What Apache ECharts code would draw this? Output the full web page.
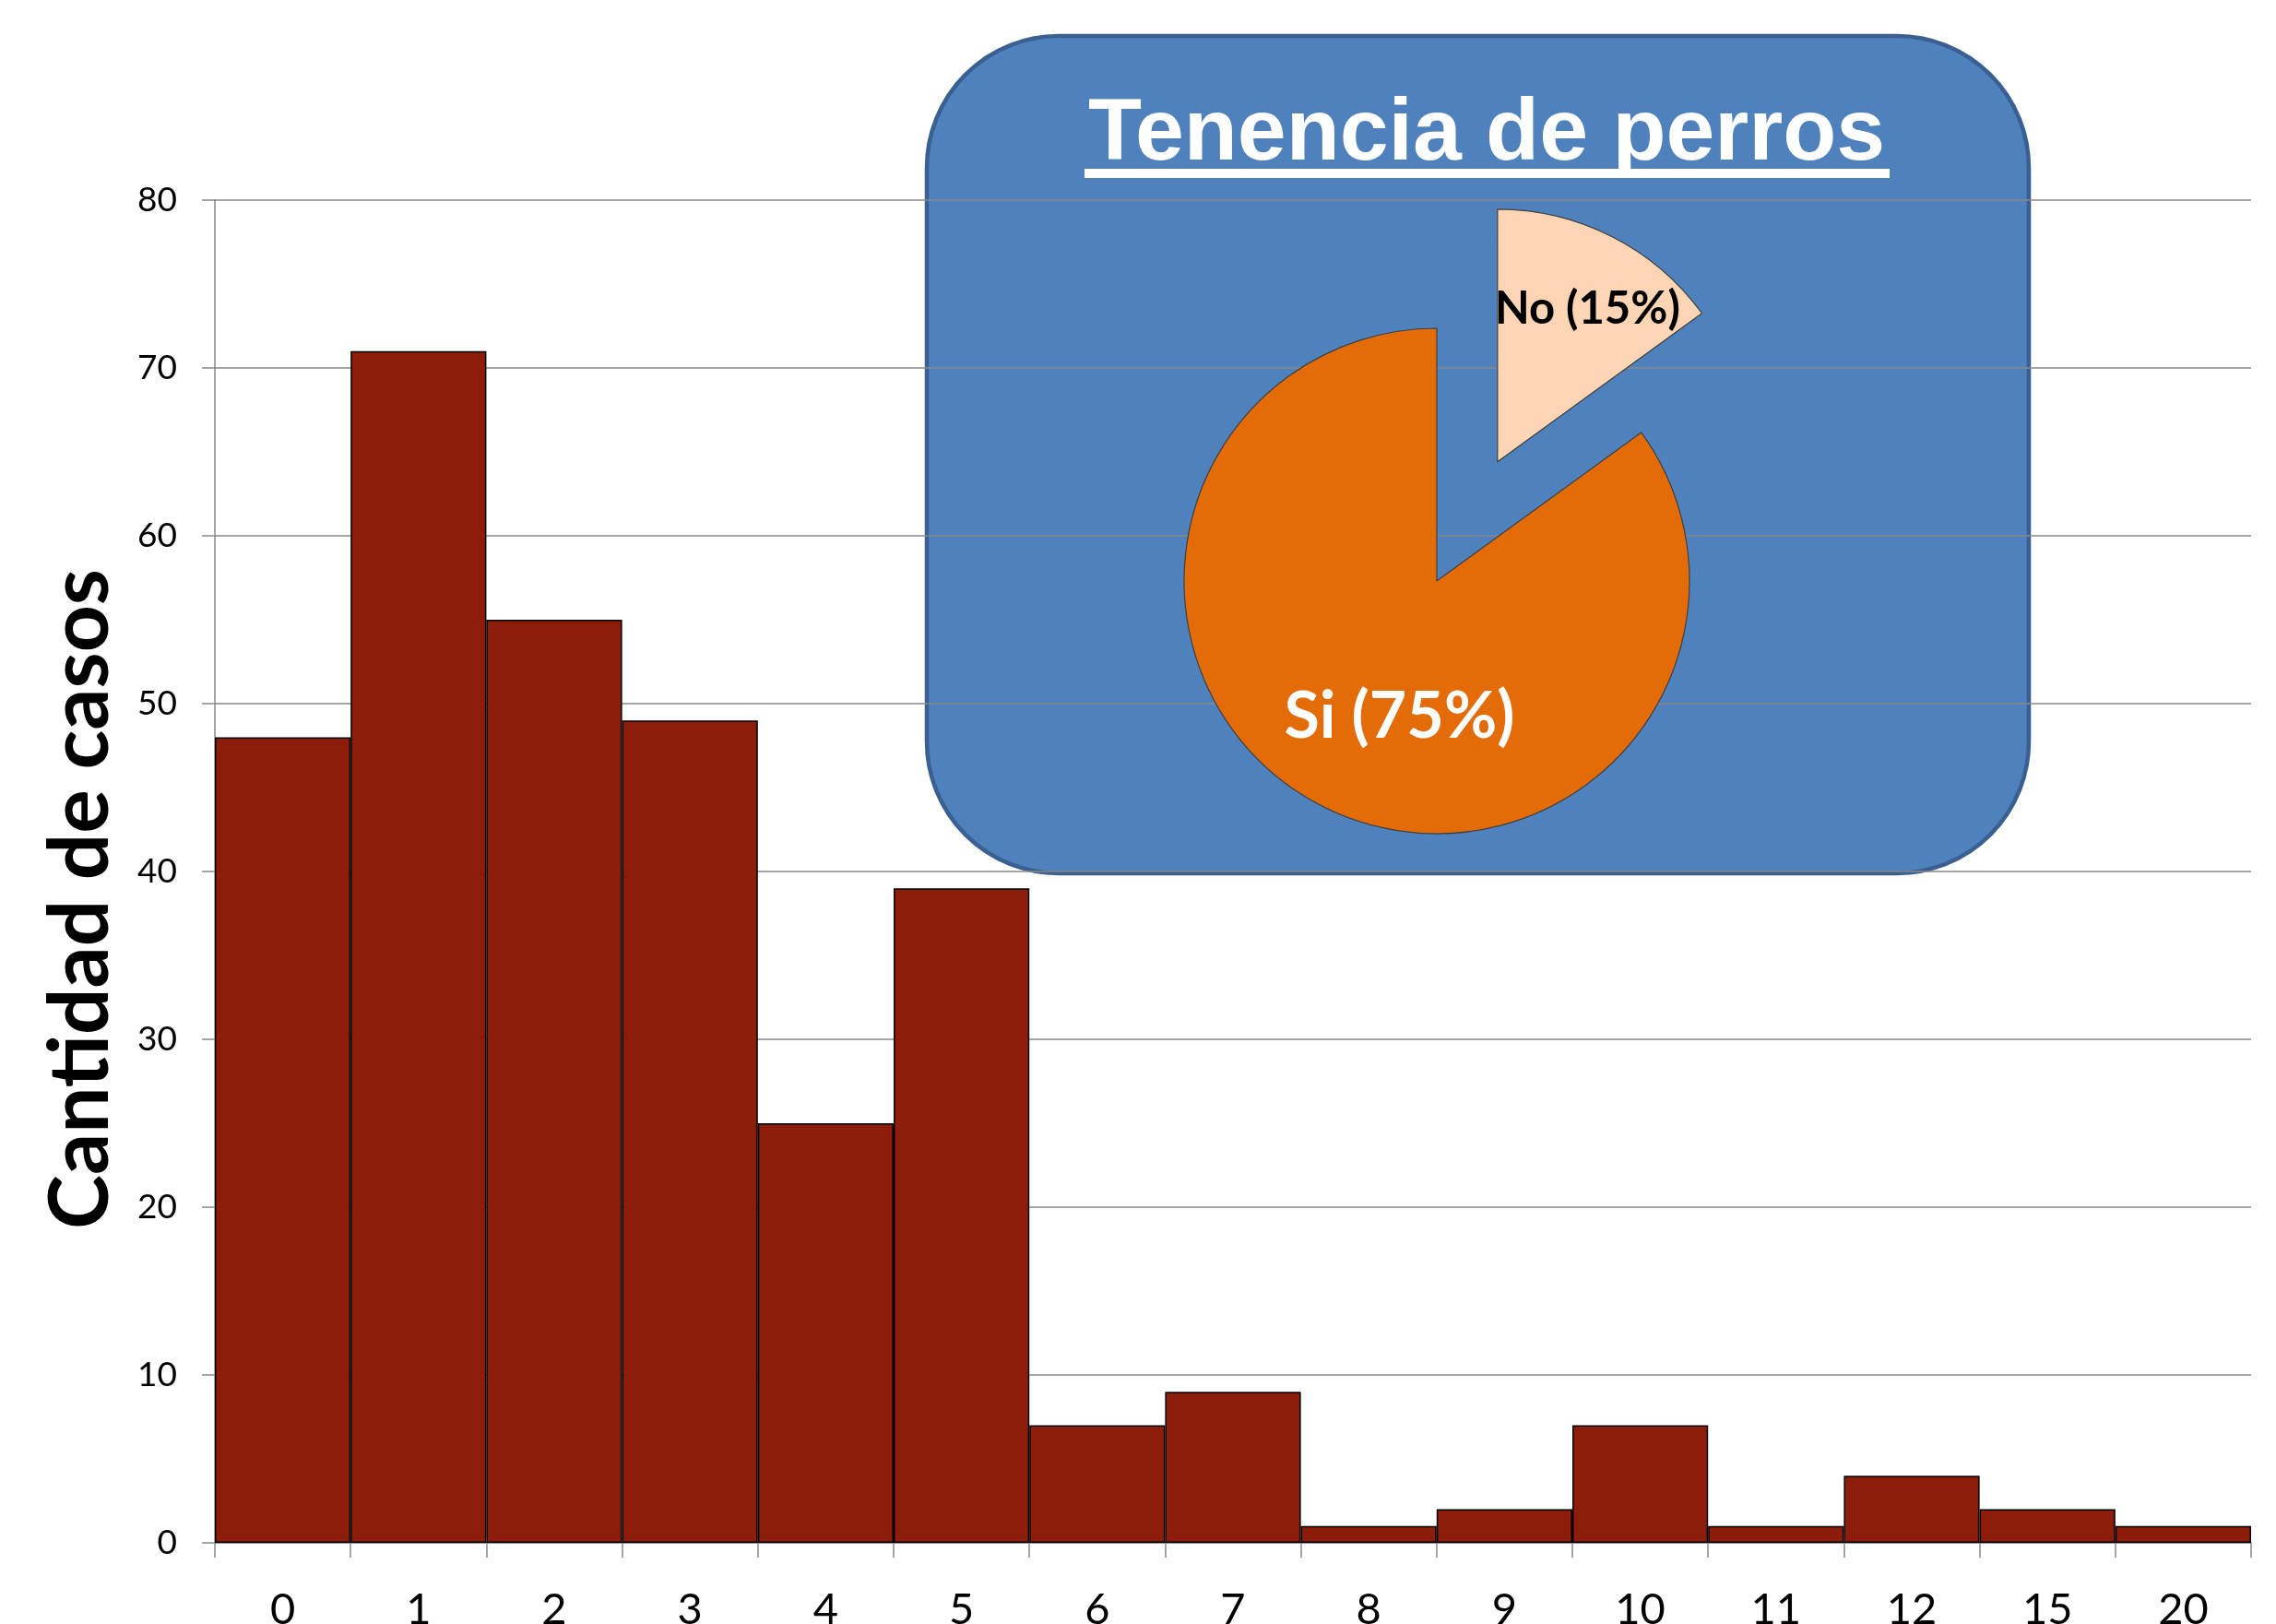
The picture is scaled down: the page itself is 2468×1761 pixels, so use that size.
<!DOCTYPE html>
<html>
<head>
<meta charset="utf-8">
<script src="https://cdn.jsdelivr.net/npm/echarts/dist/echarts.min.js"></script>
<style>
html,body{margin:0;padding:0;background:#ffffff;}
#c{width:2468px;height:1761px;}
</style>
</head>
<body>
<div id="c"></div>
<script>
// ---- data ----
const categories = ['0','1','2','3','4','5','6','7','8','9','10','11','12','15','20'];
const casos = [48,71,55,49,25,39,7,9,1,2,7,1,4,2,1];
const yMin = 0, yMax = 80, yStep = 10;
const yAxisTitle = 'Cantidad de casos';
const insetTitle = 'Tenencia de perros';
const pieNames = ['No','Si'];
const pieValues = [15,85];
const pieLabels = ['No (15%)','Si (75%)'];

// ---- chart ----
const chart = echarts.init(document.getElementById('c'), null, {renderer:'canvas'});
const gridColor = '#898989';
chart.setOption({
  animation:false,
  backgroundColor:'#ffffff',
  grid:{left:233, right:27, top:217, bottom:88, containLabel:false, outerBoundsMode:'none'},
  xAxis:{
    type:'category', data:categories, boundaryGap:true,
    axisLine:{show:true, lineStyle:{color:gridColor, width:1.5}},
    axisTick:{show:true, length:16, lineStyle:{color:gridColor, width:1.5}},
    axisLabel:{color:'#000', fontFamily:'Lato', fontSize:47, margin:49, interval:0},
    splitLine:{show:false}
  },
  yAxis:{
    type:'value', min:yMin, max:yMax, interval:yStep,
    name:yAxisTitle, nameLocation:'middle', nameGap:100, nameRotate:90,
    nameTextStyle:{fontFamily:'Lato', fontWeight:'bold', fontSize:89, color:'#000', padding:[0,60,0,0]},
    axisLine:{show:true, lineStyle:{color:gridColor, width:1.5}},
    axisTick:{show:true, length:14, lineStyle:{color:gridColor, width:1.5}},
    axisLabel:{color:'#000', fontFamily:'Lato', fontSize:37, margin:41},
    splitLine:{show:true, lineStyle:{color:gridColor, width:1.5}}
  },
  series:[
    {
      type:'bar', data:casos, barCategoryGap:'0%',
      itemStyle:{color:'#8D1D0B', borderColor:'#000', borderWidth:1.5},
      emphasis:{disabled:true}, z:2
    },
    {
      type:'pie', center:[1558,630], radius:274, startAngle:90, clockwise:true,
      selectedMode:'single', selectedOffset:145,
      color:['#FCD5B5','#E36C09'],
      itemStyle:{borderColor:'#3f3f3f', borderWidth:1.2},
      emphasis:{disabled:true},
      data: pieNames.map((n,i)=>({
        name:n, value:pieValues[i], selected:i===0,
        label: i===0 ? {color:'#000', fontSize:49} : {color:'#fff', fontSize:70}
      })),
      label:{show:true, position:'inside', fontFamily:'Lato', fontWeight:'bold',
             formatter:p=>pieLabels[p.dataIndex]},
      labelLine:{show:false},
      labelLayout:function(params){
        return params.dataIndex===0 ? {dx:34, dy:-41} : {dx:23, dy:23};
      },
      z:5
    }
  ],
  graphic:[
    {type:'rect', z:-1, silent:true,
     shape:{x:1005, y:39, width:1195, height:908, r:143},
     style:{fill:'#4F81BD', stroke:'#3A6091', lineWidth:4.5}},
    {type:'text', z:10, silent:true,
     style:{text:insetTitle, x:1612, y:147, fill:'#ffffff',
            font:'bold 95px "Liberation Sans", Arial, sans-serif',
            textAlign:'center', textVerticalAlign:'middle'}},
    {type:'rect', z:10, silent:true,
     shape:{x:1176, y:183, width:873, height:10},
     style:{fill:'#ffffff'}}
  ]
});
</script>
</body>
</html>
